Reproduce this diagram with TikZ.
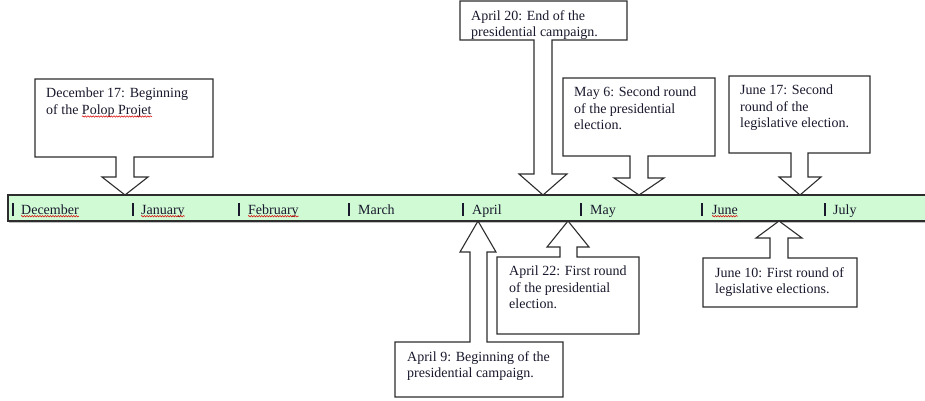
\documentclass[tikz,border=0pt]{standalone}
\usepackage{fontspec}
\setmainfont{Liberation Serif}
\usepackage{tikz}
\usetikzlibrary{decorations.pathmorphing}
\definecolor{BarGreen}{RGB}{207,250,212}
\definecolor{EdgeDark}{RGB}{45,45,45}
\definecolor{TextDark}{RGB}{25,25,45}

\begin{document}
\begin{tikzpicture}[
        x=1pt,y=-1pt,
        cl/.style={draw=EdgeDark,fill=white,line width=1.1pt,line join=miter},
        txt/.style={anchor=north west,inner sep=0pt,align=left,text=TextDark,
                    font=\fontsize{14}{16.3}\selectfont},
        mon/.style={anchor=base west,inner sep=0pt,text=TextDark,
                    font=\fontsize{14}{16}\selectfont},
        tick/.style={draw=TextDark,line width=1.2pt},
        squig/.style={draw=red!85!black,line width=0.5pt,
                      decorate,decoration={snake,amplitude=0.7pt,segment length=2.6pt}}
      ]
        \clip (0,0) rectangle (925,400);
        % timeline bar
        \fill[BarGreen] (8,195) rectangle (935,221);
        \draw[EdgeDark,line width=1.5pt] (935,195) -- (8,195) -- (8,221) -- (935,221);
        \draw[black!25,line width=0.8pt] (9,222.7) -- (935,222.7);
        % months
        \draw[tick] (13,203) -- (13,216);
        \draw[tick] (133,203) -- (133,216);
        \draw[tick] (239,203) -- (239,216);
        \draw[tick] (349,203) -- (349,216);
        \draw[tick] (463,203) -- (463,216);
        \draw[tick] (581,203) -- (581,216);
        \draw[tick] (702,203) -- (702,216);
        \draw[tick] (825,203) -- (825,216);
        \node[mon] (dec) at (21,214) {December};
        \node[mon] (jan) at (141,214) {January};
        \node[mon] (feb) at (248,214) {February};
        \node[mon] (mar) at (358,214) {March};
        \node[mon] (apr) at (472,214) {April};
        \node[mon] (may) at (590,214) {May};
        \node[mon] (jun) at (712,214) {June};
        \node[mon] (jul) at (833,214) {July};
        \draw[squig] ([yshift=-2.2pt]dec.base west) -- ([yshift=-2.2pt]dec.base east);
        \draw[squig] ([yshift=-2.2pt]jan.base west) -- ([yshift=-2.2pt]jan.base east);
        \draw[squig] ([yshift=-2.2pt]feb.base west) -- ([yshift=-2.2pt]feb.base east);
        \draw[squig] ([yshift=-2.2pt]jun.base west) -- ([yshift=-2.2pt]jun.base east);
        % callouts above the bar
        \draw[cl] (35,79) -- (213,79) -- (213,157) -- (134,157) -- (134,177) -- (148,177)
          -- (125,195) -- (102,177) -- (116,177) -- (116,157) -- (35,157) -- cycle;
        \draw[cl] (460,1) -- (627,1) -- (627,40) -- (552,40) -- (552,174) -- (567,174)
          -- (543,195) -- (519,174) -- (534,174) -- (534,40) -- (460,40) -- cycle;
        \draw[cl] (563,78) -- (715,78) -- (715,156) -- (648,156) -- (648,178) -- (664,178)
          -- (639,195) -- (614,178) -- (630,178) -- (630,156) -- (563,156) -- cycle;
        \draw[cl] (729,76) -- (870,76) -- (870,153) -- (808,153) -- (808,177) -- (821,177)
          -- (800,195) -- (779,177) -- (791,177) -- (791,153) -- (729,153) -- cycle;
        % callouts below the bar
        \draw[cl] (395,342) -- (470,342) -- (470,252) -- (460,252) -- (478,221) -- (496,252)
          -- (487,252) -- (487,342) -- (563,342) -- (563,397) -- (395,397) -- cycle;
        \draw[cl] (497,257) -- (560,257) -- (560,247) -- (547,247) -- (568,221) -- (589,247)
          -- (577,247) -- (577,257) -- (639,257) -- (639,334) -- (497,334) -- cycle;
        \draw[cl] (703,258) -- (770,258) -- (770,238) -- (756,238) -- (779,221) -- (802,238)
          -- (788,238) -- (788,258) -- (857,258) -- (857,307) -- (703,307) -- cycle;
        % texts
        \node[txt] (dec17) at (46,88) {December 17: Beginning\\of the Polop Projet};
        \draw[squig] (82,116.5) -- (152,116.5);
        \begin{scope}
          \clip (461,2) rectangle (626,39.2);
          \node[txt] (apr20) at (471,10) {April 20: End of the\\presidential campaign.};
        \end{scope}
        \node[txt] (may6) at (574,87) {May 6: Second round\\of the presidential\\election.};
        \node[txt] (jun17) at (740,85) {June 17: Second\\round of the\\legislative election.};
        \node[txt] (apr9) at (407,351) {April 9: Beginning of the\\presidential campaign.};
        \node[txt] (apr22) at (509,266) {April 22: First round\\of the presidential\\election.};
        \node[txt] (jun10) at (715,267) {June 10: First round of\\legislative elections.};
      \end{tikzpicture}
\end{document}
